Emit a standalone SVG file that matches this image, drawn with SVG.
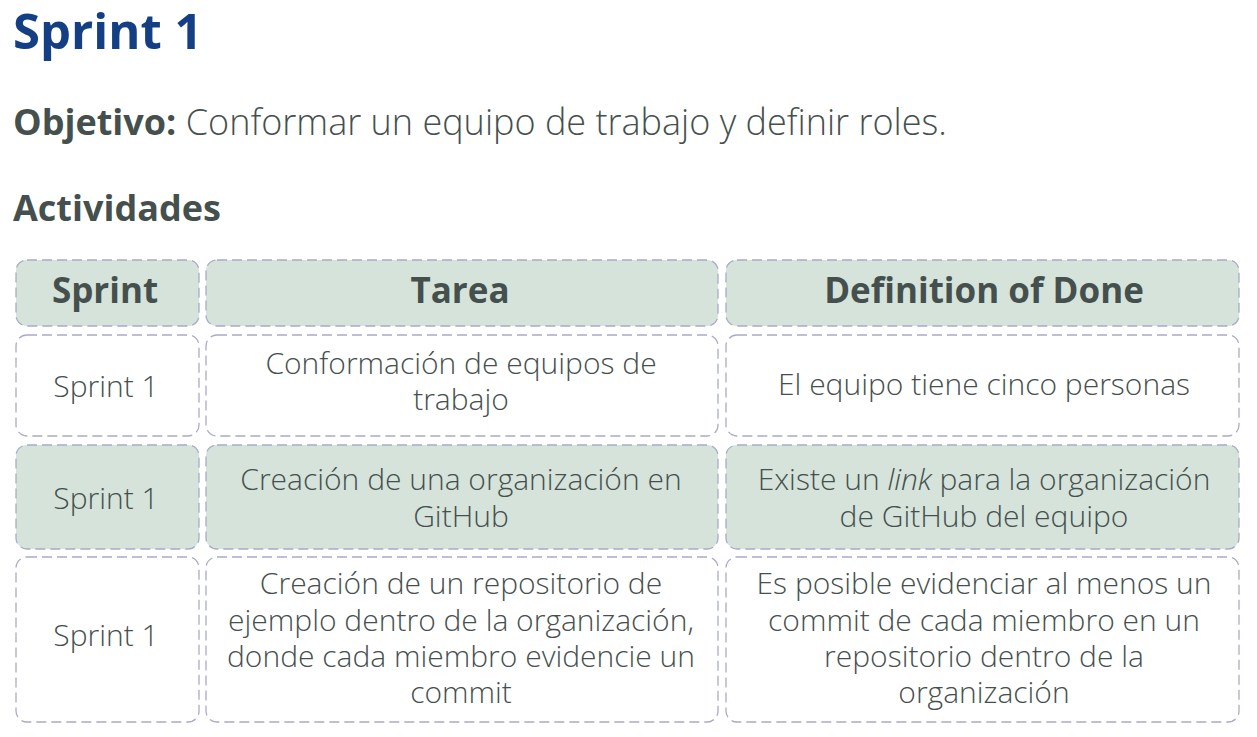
<svg xmlns="http://www.w3.org/2000/svg" width="1257" height="737" viewBox="0 0 1257 737">
<style>
.t{font-family:"Open Sans","Noto Sans",sans-serif;fill:#45504e}
.title{font-family:"Open Sans","Noto Sans",sans-serif;font-weight:700;font-size:49px;fill:#143f85}
.b{font-weight:700}
.l{font-weight:300}
.h{font-size:35px;font-weight:700;text-anchor:middle}
.c{font-size:30px;font-weight:300;text-anchor:middle}
.cell{stroke:#a9abc8;stroke-width:1.3;stroke-dasharray:10 5;fill:#ffffff}
.fill{fill:#d5e3da}
</style>
<rect width="1257" height="737" fill="#ffffff"/>
<text class="title" x="13" y="49">Sprint 1</text>
<text class="t" x="13" y="135" font-size="36"><tspan class="b">Objetivo:</tspan><tspan class="l"> Conformar un equipo de trabajo y definir roles.</tspan></text>
<text class="t b" x="13" y="221" font-size="36">Actividades</text>

<g id="header">
<rect class="cell fill" x="16" y="260" width="183" height="66" rx="11"/>
<rect class="cell fill" x="206" y="260" width="512" height="66" rx="11"/>
<rect class="cell fill" x="726" y="260" width="513" height="66" rx="11"/>
<text class="t h" x="105" y="303">Sprint</text>
<text class="t h" x="460" y="303">Tarea</text>
<text class="t h" x="984" y="303">Definition of Done</text>
</g>

<g id="row1">
<rect class="cell" x="16" y="335" width="183" height="101" rx="11"/>
<rect class="cell" x="206" y="335" width="512" height="101" rx="11"/>
<rect class="cell" x="726" y="335" width="513" height="101" rx="11"/>
<text class="t c" x="106" y="397">Sprint 1</text>
<text class="t c" x="461" y="374">Conformación de equipos de</text>
<text class="t c" x="461" y="410">trabajo</text>
<text class="t c" x="984" y="395">El equipo tiene cinco personas</text>
</g>

<g id="row2">
<rect class="cell fill" x="16" y="445" width="183" height="104" rx="11"/>
<rect class="cell fill" x="206" y="445" width="512" height="104" rx="11"/>
<rect class="cell fill" x="726" y="445" width="513" height="104" rx="11"/>
<text class="t c" x="106" y="509">Sprint 1</text>
<text class="t c" x="461" y="490">Creación de una organización en</text>
<text class="t c" x="461" y="527">GitHub</text>
<text class="t c" x="984" y="490">Existe un <tspan font-style="italic">link</tspan> para la organización</text>
<text class="t c" x="984" y="527">de GitHub del equipo</text>
</g>

<g id="row3">
<rect class="cell" x="16" y="557" width="183" height="165" rx="11"/>
<rect class="cell" x="206" y="557" width="512" height="165" rx="11"/>
<rect class="cell" x="726" y="557" width="513" height="165" rx="11"/>
<text class="t c" x="106" y="646">Sprint 1</text>
<text class="t c" x="461" y="594">Creación de un repositorio de</text>
<text class="t c" x="461" y="631">ejemplo dentro de la organización,</text>
<text class="t c" x="461" y="667">donde cada miembro evidencie un</text>
<text class="t c" x="461" y="703">commit</text>
<text class="t c" x="984" y="594">Es posible evidenciar al menos un</text>
<text class="t c" x="984" y="631">commit de cada miembro en un</text>
<text class="t c" x="984" y="667">repositorio dentro de la</text>
<text class="t c" x="984" y="703">organización</text>
</g>
<g id="connectors"/>
</svg>
